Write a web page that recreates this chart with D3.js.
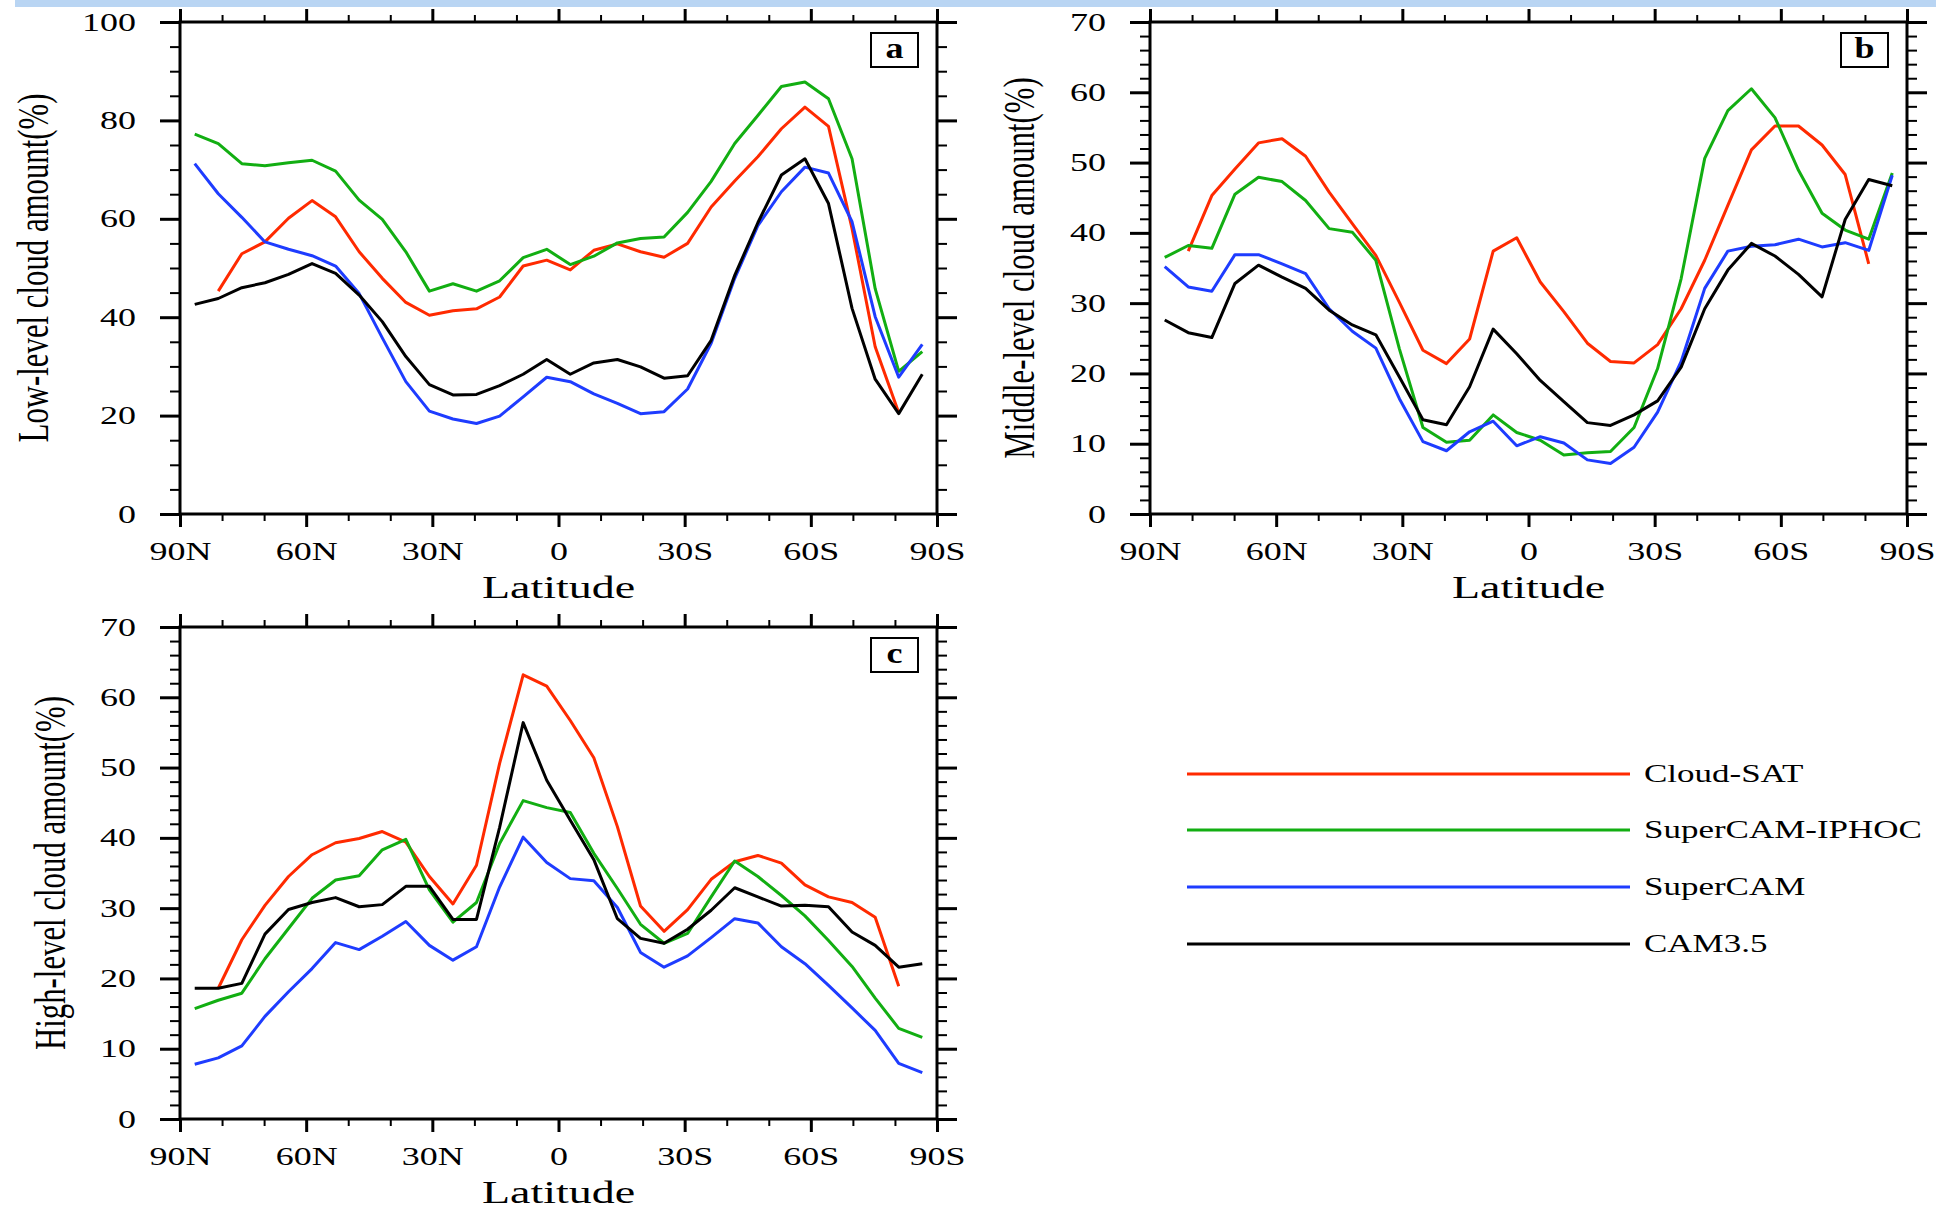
<!DOCTYPE html>
<html>
<head>
<meta charset="utf-8">
<script src="https://cdn.jsdelivr.net/npm/d3@7"></script>
<style>
  body { margin: 0; background: #fff; }
  svg { display: block; }
  text { font-family: "Liberation Serif", "Times New Roman", serif; fill: #000; }
</style>
</head>
<body>
<svg id="chart" width="1959" height="1210"></svg>
<script>
// latitudes of the 32 zonal-mean points (N positive)
let lats = [86.5, 80.9, 75.3, 69.8, 64.2, 58.6, 53.0, 47.4, 41.9, 36.3, 30.7, 25.1, 19.5, 14.0, 8.4, 2.8,
  -2.8, -8.4, -14.0, -19.5, -25.1, -30.7, -36.3, -41.9, -47.4, -53.0, -58.6, -64.2, -69.8, -75.3, -80.9, -86.5];

let seriesNames = ["Cloud-SAT", "SuperCAM-IPHOC", "SuperCAM", "CAM3.5"];
let seriesColors = ["#ff2a00", "#12ae12", "#1e3cff", "#000000"];

let latTicks = [90, 60, 30, 0, -30, -60, -90];
let latTickLabels = ["90N", "60N", "30N", "0", "30S", "60S", "90S"];

// (a) low-level cloud amount
let lowCloudSat = [null, 45.3, 52.9, 55.3, 60.1, 63.7, 60.4, 53.3, 47.9, 43.0, 40.4, 41.3, 41.7, 44.1, 50.4, 51.6,
  49.6, 53.6, 54.9, 53.3, 52.2, 55.0, 62.4, 67.7, 72.6, 78.3, 82.7, 78.8, 58.0, 34.0, 20.6, null];
let lowIphoc = [77.2, 75.3, 71.2, 70.8, 71.4, 71.9, 69.7, 63.8, 59.9, 53.3, 45.3, 46.8, 45.3, 47.4, 52.1, 53.8,
  50.7, 52.4, 55.1, 56.0, 56.3, 61.3, 67.6, 75.3, 81.0, 86.9, 87.8, 84.4, 72.2, 45.8, 29.0, 33.0];
let lowSuperCam = [71.2, 65.1, 60.3, 55.3, 53.8, 52.5, 50.4, 44.8, 35.8, 26.9, 20.9, 19.3, 18.4, 19.9, 23.8, 27.8,
  26.9, 24.4, 22.5, 20.4, 20.8, 25.4, 34.7, 47.9, 58.6, 65.5, 70.5, 69.3, 59.4, 40.1, 27.8, 34.5];
let lowCam = [42.6, 43.8, 46.0, 47.0, 48.7, 50.9, 48.9, 44.5, 39.1, 32.0, 26.3, 24.2, 24.3, 26.1, 28.4, 31.4,
  28.4, 30.7, 31.4, 29.9, 27.6, 28.1, 35.3, 48.5, 59.2, 68.9, 72.2, 63.1, 41.8, 27.4, 20.4, 28.4];

// (b) middle-level cloud amount
let midCloudSat = [null, 37.4, 45.3, 49.1, 52.8, 53.4, 50.9, 45.8, 41.3, 36.8, 30.1, 23.3, 21.4, 24.9, 37.4, 39.3,
  33.0, 28.8, 24.3, 21.7, 21.5, 24.1, 29.2, 36.1, 43.9, 51.8, 55.2, 55.2, 52.5, 48.3, 35.6, null];
let midIphoc = [36.5, 38.2, 37.8, 45.5, 47.9, 47.3, 44.6, 40.6, 40.1, 36.1, 23.5, 12.3, 10.2, 10.5, 14.1, 11.6,
  10.5, 8.4, 8.7, 8.9, 12.3, 20.7, 33.5, 50.6, 57.4, 60.5, 56.4, 48.9, 42.8, 40.4, 39.1, 48.5];
let midSuperCam = [35.2, 32.3, 31.7, 36.9, 36.9, 35.6, 34.2, 29.2, 26.0, 23.6, 16.4, 10.3, 9.0, 11.7, 13.2, 9.7,
  11.0, 10.1, 7.7, 7.2, 9.5, 14.5, 21.7, 32.1, 37.4, 38.1, 38.3, 39.1, 38.0, 38.6, 37.5, 48.2];
let midCam = [27.6, 25.8, 25.1, 32.8, 35.4, 33.7, 32.1, 29.0, 26.9, 25.5, 19.5, 13.4, 12.7, 18.1, 26.3, 22.8,
  19.0, 16.0, 13.0, 12.6, 14.1, 16.1, 20.9, 29.2, 34.7, 38.5, 36.7, 34.1, 30.9, 41.9, 47.6, 46.7];

// (c) high-level cloud amount
let highCloudSat = [null, 18.6, 25.5, 30.4, 34.5, 37.6, 39.3, 39.9, 40.9, 39.4, 34.5, 30.6, 36.1, 50.6, 63.2, 61.6,
  56.7, 51.4, 41.6, 30.3, 26.7, 29.8, 34.1, 36.6, 37.5, 36.4, 33.3, 31.6, 30.8, 28.7, 18.9, null];
let highIphoc = [15.7, 16.9, 17.9, 22.8, 27.1, 31.4, 34.0, 34.6, 38.3, 39.8, 32.6, 28.0, 30.8, 39.2, 45.3, 44.3,
  43.6, 37.8, 32.8, 27.7, 25.0, 26.4, 31.6, 36.7, 34.5, 31.8, 28.9, 25.4, 21.7, 17.2, 12.9, 11.6];
let highSuperCam = [7.8, 8.7, 10.4, 14.6, 18.1, 21.4, 25.1, 24.1, 26.0, 28.1, 24.7, 22.6, 24.5, 33.0, 40.1, 36.5,
  34.2, 33.9, 30.1, 23.7, 21.6, 23.2, 25.8, 28.5, 27.9, 24.5, 22.1, 19.0, 15.8, 12.6, 7.9, 6.6];
let highCam = [18.6, 18.6, 19.3, 26.3, 29.8, 30.8, 31.5, 30.2, 30.5, 33.1, 33.1, 28.4, 28.4, 41.5, 56.4, 48.2,
  42.5, 36.9, 28.5, 25.7, 25.0, 27.0, 29.7, 32.9, 31.6, 30.3, 30.4, 30.2, 26.6, 24.7, 21.6, 22.1];

let panels = [
  {tag: "a", title: "Low-level cloud amount(%)", yMax: 100, yStep: 20, yMinor: 5,
   left: 180, top: 22, titleX: 33, series: [lowCloudSat, lowIphoc, lowSuperCam, lowCam]},
  {tag: "b", title: "Middle-level cloud amount(%)", yMax: 70, yStep: 10, yMinor: 2,
   left: 1150, top: 22, titleX: 1019, series: [midCloudSat, midIphoc, midSuperCam, midCam]},
  {tag: "c", title: "High-level cloud amount(%)", yMax: 70, yStep: 10, yMinor: 2,
   left: 180, top: 627, titleX: 50, series: [highCloudSat, highIphoc, highSuperCam, highCam]}
];

let W = 757, H = 492;
let squash = 0.7;   // the figure was squeezed vertically
let svg = d3.select("#chart");

// light blue strip along the top
svg.append("rect").attr("x", 15).attr("y", 0).attr("width", 1921).attr("height", 7).attr("fill", "#b9d5f3");

function styleTicks(g, width) {
  g.select(".domain").remove();
  g.selectAll("line").attr("stroke", "#000").attr("stroke-width", width);
}

panels.forEach(function (p) {
  let g = svg.append("g").attr("transform", `translate(${p.left}, ${p.top})`);

  let x = d3.scaleLinear().domain([90, -90]).range([0, W]);
  let y = d3.scaleLinear().domain([0, p.yMax]).range([H, 0]);

  let xMinor = d3.range(-90, 91, 10).filter(d => d % 30 != 0);
  let yMajor = d3.range(0, p.yMax + 0.01, p.yStep);
  let yMinor = d3.range(0, p.yMax + 0.01, p.yMinor).filter(d => Math.abs(d % p.yStep) > 1e-6);

  // minor ticks
  g.append("g").attr("transform", `translate(0, ${H})`)
    .call(d3.axisBottom(x).tickValues(xMinor).tickSize(7).tickSizeOuter(0).tickFormat(""))
    .call(s => styleTicks(s, 2));
  g.append("g")
    .call(d3.axisTop(x).tickValues(xMinor).tickSize(7).tickSizeOuter(0).tickFormat(""))
    .call(s => styleTicks(s, 2));
  g.append("g")
    .call(d3.axisLeft(y).tickValues(yMinor).tickSize(10).tickSizeOuter(0).tickFormat(""))
    .call(s => styleTicks(s, 2));
  g.append("g").attr("transform", `translate(${W}, 0)`)
    .call(d3.axisRight(y).tickValues(yMinor).tickSize(10).tickSizeOuter(0).tickFormat(""))
    .call(s => styleTicks(s, 2));

  // major ticks
  let xAxis = g.append("g").attr("transform", `translate(0, ${H})`)
    .call(d3.axisBottom(x).tickValues(latTicks).tickSize(13).tickSizeOuter(0)
      .tickFormat((d, i) => latTickLabels[i]))
    .call(s => styleTicks(s, 3));
  xAxis.selectAll("text")
    .attr("y", null).attr("dy", null)
    .attr("transform", `translate(0, 46) scale(1, ${squash})`)
    .style("font-size", "36px").style("font-family", "Liberation Serif").attr("fill", "#000");

  g.append("g")
    .call(d3.axisTop(x).tickValues(latTicks).tickSize(13).tickSizeOuter(0).tickFormat(""))
    .call(s => styleTicks(s, 3));

  let yAxis = g.append("g")
    .call(d3.axisLeft(y).tickValues(yMajor).tickSize(20).tickPadding(24).tickSizeOuter(0))
    .call(s => styleTicks(s, 3));
  yAxis.selectAll("text")
    .attr("transform", `scale(1, ${squash})`)
    .style("font-size", "36px").style("font-family", "Liberation Serif").attr("fill", "#000");

  g.append("g").attr("transform", `translate(${W}, 0)`)
    .call(d3.axisRight(y).tickValues(yMajor).tickSize(20).tickSizeOuter(0).tickFormat(""))
    .call(s => styleTicks(s, 3));

  // lines
  let line = d3.line()
    .defined(d => d[1] != null)
    .x(d => x(d[0]))
    .y(d => y(d[1]));

  p.series.forEach(function (vals, k) {
    g.append("path")
      .datum(lats.map((lat, i) => [lat, vals[i]]))
      .attr("d", line)
      .attr("fill", "none")
      .attr("stroke", seriesColors[k])
      .attr("stroke-width", 3)
      .attr("stroke-linejoin", "round");
  });

  // frame
  g.append("rect").attr("width", W).attr("height", H)
    .attr("fill", "none").attr("stroke", "#000").attr("stroke-width", 3);

  // panel tag box
  let bx = W - 19 - 47, by = 11;
  g.append("rect").attr("x", bx).attr("y", by).attr("width", 47).attr("height", 34)
    .attr("fill", "#fff").attr("stroke", "#000").attr("stroke-width", 2);
  g.append("text")
    .attr("transform", `translate(${bx + 23.5}, ${by + 25}) scale(1, 0.8)`)
    .attr("text-anchor", "middle")
    .style("font-size", "36px").style("font-weight", "bold")
    .text(p.tag);

  // axis titles
  g.append("text")
    .attr("transform", `translate(${W / 2}, ${H + 84}) scale(1, ${squash})`)
    .attr("text-anchor", "middle")
    .style("font-size", "46px")
    .text("Latitude");

  svg.append("text")
    .attr("transform", `translate(${p.titleX}, ${p.top + H / 2}) scale(1, ${squash}) rotate(-90)`)
    .attr("text-anchor", "middle")
    .attr("dy", "0.33em")
    .style("font-size", "44px")
    .text(p.title);
});

// legend
let legendRows = [774, 830, 887, 944];
let legend = svg.append("g");
seriesNames.forEach(function (name, k) {
  legend.append("line")
    .attr("x1", 1187).attr("x2", 1630)
    .attr("y1", legendRows[k]).attr("y2", legendRows[k])
    .attr("stroke", seriesColors[k]).attr("stroke-width", 3);
  legend.append("text")
    .attr("transform", `translate(1644, ${legendRows[k]}) scale(1, ${squash})`)
    .attr("dy", "0.33em")
    .style("font-size", "35px")
    .text(name);
});
</script>
</body>
</html>
